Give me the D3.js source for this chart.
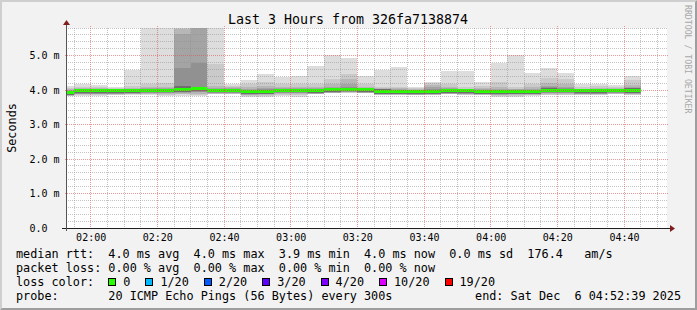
<!DOCTYPE html>
<html>
<head>
<meta charset="utf-8">
<script src="https://cdn.jsdelivr.net/npm/d3@7"></script>
<style>
  body { margin: 0; background: #f2f2f2; }
  svg { display: block; }
  text { font-family: "DejaVu Sans Mono", monospace; fill: #000; }
</style>
</head>
<body>
<svg id="chart"></svg>
<script>
// Size of the picture and of the plot area
const W = 697, H = 310;
const plot = { left: 67, right: 667, top: 28, bottom: 228 };

// Time window of the graph
const day = "2025-12-06 ";
const windowStart = "01:52:54";
const windowEnd = "04:52:54";

// One value per 5 minute step, stamped with the end time of the step
const stepEnd = ["01:55", "02:00", "02:05", "02:10", "02:15", "02:20", "02:25", "02:30", "02:35", "02:40",
                 "02:45", "02:50", "02:55", "03:00", "03:05", "03:10", "03:15", "03:20", "03:25", "03:30",
                 "03:35", "03:40", "03:45", "03:50", "03:55", "04:00", "04:05", "04:10", "04:15", "04:20",
                 "04:25", "04:30", "04:35", "04:40", "04:45"];

// median rtt (ms)
const median = [3.93, 3.99, 3.99, 3.98, 3.99, 4.00, 4.00, 4.02, 4.04, 4.00,
                4.00, 3.96, 3.97, 4.00, 4.00, 3.99, 4.01, 4.03, 4.01, 3.97,
                3.97, 3.96, 3.97, 3.99, 3.98, 3.97, 3.96, 3.97, 3.97, 4.00,
                4.00, 3.98, 3.98, 4.00, 3.99];

// lost pings out of 20
const loss = [0, 0, 0, 0, 0, 0, 0, 0, 0, 0, 0, 0, 0, 0, 0, 0, 0, 0, 0, 0,
              0, 0, 0, 0, 0, 0, 0, 0, 0, 0, 0, 0, 0, 0, 0];

// smoke: upper edges of the ping bands, outer (max) to inner (ms)
const hi1 = [4.12, 4.17, 4.15, 4.08, 4.59, 6.30, 6.50, 6.90, 7.20, 6.60,
             4.18, 4.29, 4.46, 4.39, 4.40, 4.70, 5.01, 4.94, 4.41, 4.59,
             4.67, 4.10, 4.22, 4.56, 4.56, 4.22, 4.79, 5.01, 4.49, 4.64,
             4.49, 4.17, 4.17, 4.14, 4.40];
const hi2 = [4.06, 4.10, 4.09, 4.06, 4.13, 4.17, 4.20, 6.20, 6.80, 4.75,
             4.12, 4.17, 4.22, 4.19, 4.17, 4.17, 4.32, 4.46, 4.17, 4.09,
             4.10, 4.06, 4.20, 4.19, 4.08, 4.12, 4.24, 4.08, 4.19, 4.36,
             4.32, 4.08, 4.12, 4.08, 4.29];
const hi3 = [4.02, 4.06, 4.05, 4.04, 4.07, 4.08, 4.10, 5.76, 6.40, 4.12,
             4.08, 4.08, 4.12, 4.10, 4.08, 4.10, 4.17, 4.32, 4.10, 4.05,
             4.05, 4.03, 4.15, 4.10, 4.04, 4.06, 4.08, 4.04, 4.08, 4.21,
             4.19, 4.04, 4.06, 4.05, 4.14];
const hi4 = [3.99, 4.04, 4.03, 4.02, 4.04, 4.05, 4.06, 5.62, 6.00, 4.07,
             4.05, 4.03, 4.06, 4.06, 4.05, 4.06, 4.10, 4.17, 4.06, 4.02,
             4.02, 4.01, 4.08, 4.05, 4.02, 4.03, 4.04, 4.02, 4.04, 4.12,
             4.10, 4.02, 4.03, 4.03, 4.08];
const hi5 = [3.97, 4.02, 4.02, 4.01, 4.02, 4.03, 4.04, 4.65, 4.78, 4.04,
             4.03, 4.00, 4.02, 4.04, 4.03, 4.03, 4.07, 4.09, 4.04, 4.00,
             4.00, 3.99, 4.02, 4.02, 4.01, 4.00, 4.00, 4.00, 4.01, 4.08,
             4.05, 4.01, 4.01, 4.02, 4.06];
const hi6 = [3.95, 4.01, 4.01, 4.00, 4.01, 4.02, 4.02, 4.12, 4.10, 4.02,
             4.02, 3.98, 4.00, 4.02, 4.02, 4.01, 4.05, 4.06, 4.03, 4.02,
             3.99, 3.98, 4.00, 4.01, 4.00, 3.99, 3.98, 3.99, 3.99, 4.07,
             4.02, 4.00, 4.00, 4.01, 4.07];

// smoke: lower edges of the same bands (ms)
const lo1 = [3.83, 3.84, 3.84, 3.85, 3.86, 3.85, 3.84, 3.84, 3.82, 3.88,
             3.88, 3.81, 3.81, 3.84, 3.81, 3.88, 3.92, 3.92, 3.91, 3.85,
             3.86, 3.86, 3.85, 3.88, 3.86, 3.85, 3.81, 3.81, 3.83, 3.85,
             3.85, 3.86, 3.86, 3.88, 3.85];
const lo2 = [3.84, 3.86, 3.86, 3.87, 3.88, 3.88, 3.87, 3.88, 3.87, 3.89,
             3.89, 3.84, 3.84, 3.87, 3.86, 3.90, 3.92, 3.92, 3.91, 3.86,
             3.86, 3.86, 3.85, 3.89, 3.86, 3.85, 3.84, 3.84, 3.85, 3.87,
             3.87, 3.86, 3.86, 3.89, 3.86];
const lo3 = [3.84, 3.88, 3.88, 3.88, 3.89, 3.90, 3.89, 3.90, 3.90, 3.90,
             3.90, 3.86, 3.86, 3.89, 3.89, 3.90, 3.92, 3.93, 3.91, 3.87,
             3.87, 3.86, 3.87, 3.90, 3.88, 3.87, 3.86, 3.86, 3.86, 3.89,
             3.89, 3.88, 3.88, 3.90, 3.88];
const lo4 = [3.85, 3.89, 3.89, 3.89, 3.90, 3.91, 3.91, 3.92, 3.93, 3.91,
             3.91, 3.87, 3.88, 3.91, 3.91, 3.90, 3.92, 3.94, 3.92, 3.88,
             3.88, 3.87, 3.88, 3.90, 3.89, 3.88, 3.87, 3.88, 3.88, 3.91,
             3.91, 3.89, 3.89, 3.91, 3.90];
const lo5 = [3.86, 3.90, 3.90, 3.90, 3.91, 3.92, 3.92, 3.93, 3.95, 3.92,
             3.92, 3.88, 3.89, 3.92, 3.92, 3.91, 3.93, 3.95, 3.93, 3.89,
             3.89, 3.88, 3.89, 3.91, 3.90, 3.89, 3.88, 3.89, 3.89, 3.92,
             3.92, 3.90, 3.90, 3.92, 3.91];
const lo6 = [3.87, 3.92, 3.92, 3.91, 3.92, 3.93, 3.93, 3.95, 3.97, 3.93,
             3.93, 3.89, 3.90, 3.93, 3.93, 3.92, 3.94, 3.96, 3.94, 3.90,
             3.90, 3.89, 3.90, 3.92, 3.91, 3.90, 3.89, 3.90, 3.90, 3.93,
             3.93, 3.91, 3.91, 3.93, 3.92];

const smokeColors = ["#dddddd", "#cacaca", "#b7b7b7", "#a4a4a4", "#919191", "#6e6e6e"];

// loss colour legend
const lossLabels = ["0", "1/20", "2/20", "3/20", "4/20", "10/20", "19/20"];
const lossColors = ["#26ff00", "#00b8ff", "#0059ff", "#5e00ff", "#7e00ff", "#dd00ff", "#ff0000"];

// texts
const title = "Last 3 Hours from 326fa7138874";
const yTitle = "Seconds";
const statLines = [
    "median rtt:  4.0 ms avg  4.0 ms max  3.9 ms min  4.0 ms now  0.0 ms sd  176.4   am/s",
    "packet loss: 0.00 % avg  0.00 % max  0.00 % min  0.00 % now"
];
const lossTitle = "loss color:";
const probeLine = "probe:       20 ICMP Echo Pings (56 Bytes) every 300s";
const endLine = "end: Sat Dec  6 04:52:39 2025";
const watermark = "RRDTOOL / TOBI OETIKER";

const charW = 7.1;

// Parsing times
const parse = d3.timeParse("%Y-%m-%d %H:%M:%S");
const t0 = parse(day + windowStart);
const t1 = parse(day + windowEnd);
const ends = stepEnd.map(s => parse(day + s + ":00"));
const cols = ends.map((e, i) => ({
    start: i === 0 ? t0 : ends[i - 1],
    end: e,
    bands: [[lo1[i], hi1[i]], [lo2[i], hi2[i]], [lo3[i], hi3[i]],
            [lo4[i], hi4[i]], [lo5[i], hi5[i]], [lo6[i], hi6[i]]],
    median: median[i],
    loss: loss[i]
}));

const svg = d3.select("#chart").attr("width", W).attr("height", H);

// Background and the shaded frame
svg.append("rect").attr("width", W).attr("height", H).attr("fill", "#f2f2f2");
svg.append("path")
    .attr("d", `M0,${H} L2,${H - 2} L2,2 L${W - 2},2 L${W},0 L0,0 Z`)
    .attr("fill", "#cfcfcf");
svg.append("path")
    .attr("d", `M0,${H} L${W},${H} L${W},0 L${W - 2},2 L${W - 2},${H - 2} L2,${H - 2} Z`)
    .attr("fill", "#9e9e9e");

// Scales
const x = d3.scaleTime().domain([t0, t1]).range([plot.left, plot.right]);
const y = d3.scaleLinear().domain([0, 5.8]).range([plot.bottom, plot.top]);

// Canvas
svg.append("rect")
    .attr("x", plot.left).attr("y", plot.top)
    .attr("width", plot.right - plot.left).attr("height", plot.bottom - plot.top)
    .attr("fill", "#ffffff");

svg.append("clipPath").attr("id", "clip")
    .append("rect")
    .attr("x", plot.left).attr("y", plot.top)
    .attr("width", plot.right - plot.left).attr("height", plot.bottom - plot.top);

const g = svg.append("g").attr("clip-path", "url(#clip)").attr("shape-rendering", "crispEdges");

// Smoke bands, outer band first so the inner ones sit on top
smokeColors.forEach((color, level) => {
    g.append("g").selectAll("rect")
        .data(cols)
        .enter()
        .append("rect")
        .attr("x", d => x(d.start))
        .attr("width", d => x(d.end) - x(d.start))
        .attr("y", d => y(d.bands[level][1]))
        .attr("height", d => y(d.bands[level][0]) - y(d.bands[level][1]))
        .attr("fill", color);
});

// Median, coloured by loss
const lossColor = n => lossColors[lossLabels.indexOf(n === 0 ? "0" : n + "/20")] || lossColors[0];
g.append("g").selectAll("rect")
    .data(cols)
    .enter()
    .append("rect")
    .attr("x", d => x(d.start))
    .attr("width", d => x(d.end) - x(d.start))
    .attr("y", d => y(d.median) - 1.5)
    .attr("height", 3)
    .attr("fill", d => lossColor(d.loss));

// Grid (semi transparent, drawn over the data like rrdtool does)
const grid = svg.append("g").attr("shape-rendering", "crispEdges");
const yMinor = y.ticks(29);
const yMajor = y.ticks(6);
const xMinor = d3.timeMinute.every(5).range(t0, t1);
const xMajor = d3.timeMinute.every(20).range(t0, t1);
const px = v => Math.floor(v) + 0.5;
const minorCol = "rgba(143,143,143,0.53)", majorCol = "rgba(222,80,80,0.58)";

grid.selectAll(".hminor")
    .data(yMinor.filter(v => !yMajor.includes(v) && v > 0))
    .enter().append("line")
    .attr("x1", plot.left - 1).attr("x2", plot.right + 1)
    .attr("y1", d => px(y(d))).attr("y2", d => px(y(d)))
    .attr("stroke", minorCol).attr("stroke-dasharray", "1,1");
grid.selectAll(".vminor")
    .data(xMinor.filter(t => t.getMinutes() % 20 !== 0))
    .enter().append("line")
    .attr("x1", d => px(x(d))).attr("x2", d => px(x(d)))
    .attr("y1", plot.top).attr("y2", plot.bottom + 1)
    .attr("stroke", minorCol).attr("stroke-dasharray", "1,1");
grid.selectAll(".hmajor")
    .data(yMajor.filter(v => v > 0))
    .enter().append("line")
    .attr("x1", plot.left - 2).attr("x2", plot.right + 2)
    .attr("y1", d => px(y(d))).attr("y2", d => px(y(d)))
    .attr("stroke", majorCol).attr("stroke-dasharray", "1,1");
grid.selectAll(".vmajor")
    .data(xMajor)
    .enter().append("line")
    .attr("x1", d => px(x(d))).attr("x2", d => px(x(d)))
    .attr("y1", plot.top - 2).attr("y2", plot.bottom + 2)
    .attr("stroke", majorCol).attr("stroke-dasharray", "1,1");

// Axes lines and arrows
const axisCol = "#1f1f1f", arrowCol = "#801f1f";
svg.append("line")
    .attr("x1", plot.left - 5).attr("x2", plot.right + 4)
    .attr("y1", plot.bottom + 0.5).attr("y2", plot.bottom + 0.5)
    .attr("stroke", axisCol).attr("shape-rendering", "crispEdges");
svg.append("line")
    .attr("x1", plot.left - 0.5).attr("x2", plot.left - 0.5)
    .attr("y1", plot.bottom + 3).attr("y2", plot.top - 5)
    .attr("stroke", "#555").attr("shape-rendering", "crispEdges");
svg.append("path")
    .attr("d", `M${plot.left - 4},${plot.top - 3} L${plot.left + 3},${plot.top - 3} L${plot.left - 0.5},${plot.top - 8} Z`)
    .attr("fill", arrowCol);
svg.append("path")
    .attr("d", `M${plot.right + 3},${plot.bottom - 3} L${plot.right + 3},${plot.bottom + 4} L${plot.right + 8},${plot.bottom + 0.5} Z`)
    .attr("fill", arrowCol);

// Axis labels through d3 axes
const xAxis = svg.append("g")
    .attr("transform", `translate(0,${plot.bottom})`)
    .call(d3.axisBottom(x).tickValues(xMajor).tickFormat(d3.timeFormat("%H:%M")).tickSize(0).tickPadding(6));
xAxis.select(".domain").remove();
xAxis.selectAll("text").style("font-size", "10px").style("font-family", "DejaVu Sans Mono");

const yAxis = svg.append("g")
    .attr("transform", `translate(${plot.left},0)`)
    .call(d3.axisLeft(y).tickValues(yMajor).tickFormat(d => d === 0 ? "0.0" : d3.format(".1f")(d) + " m").tickSize(0));
yAxis.select(".domain").remove();
yAxis.selectAll("text")
    .attr("text-anchor", "start")
    .attr("x", 29.5 - plot.left)
    .style("font-size", "10px").style("font-family", "DejaVu Sans Mono");

// Title, axis title and watermark
svg.append("text")
    .attr("x", 348).attr("y", 24)
    .attr("text-anchor", "middle")
    .style("font-size", "13.3px")
    .text(title);
svg.append("text")
    .attr("transform", `translate(15.5,${(plot.top + plot.bottom) / 2}) rotate(-90)`)
    .attr("text-anchor", "middle")
    .style("font-size", "11.8px")
    .text(yTitle);
svg.append("text")
    .attr("transform", "translate(684.5,5) rotate(90)")
    .style("font-size", "8.2px")
    .style("fill", "#a8a8a8")
    .text(watermark);

// Legend
const legend = svg.append("g").style("font-size", "11.8px");
statLines.forEach((s, i) => {
    legend.append("text")
        .attr("x", 16).attr("y", 258 + i * 14)
        .attr("xml:space", "preserve").style("white-space", "pre")
        .text(s);
});
legend.append("text").attr("x", 16).attr("y", 286).text(lossTitle);

let bx = 16 + 13 * charW;
lossLabels.forEach((label, i) => {
    legend.append("rect")
        .attr("x", Math.round(bx) + 0.5).attr("y", 278.5)
        .attr("width", 7).attr("height", 7)
        .attr("fill", lossColors[i]).attr("stroke", "#000")
        .attr("shape-rendering", "crispEdges");
    legend.append("text").attr("x", bx + 15).attr("y", 286).text(label);
    bx = bx + 15 + label.length * charW + 15;
});

legend.append("text")
    .attr("x", 16).attr("y", 300)
    .attr("xml:space", "preserve").style("white-space", "pre")
    .text(probeLine);
legend.append("text")
    .attr("x", 681).attr("y", 300)
    .attr("text-anchor", "end")
    .attr("xml:space", "preserve").style("white-space", "pre")
    .text(endLine);
</script>
</body>
</html>
